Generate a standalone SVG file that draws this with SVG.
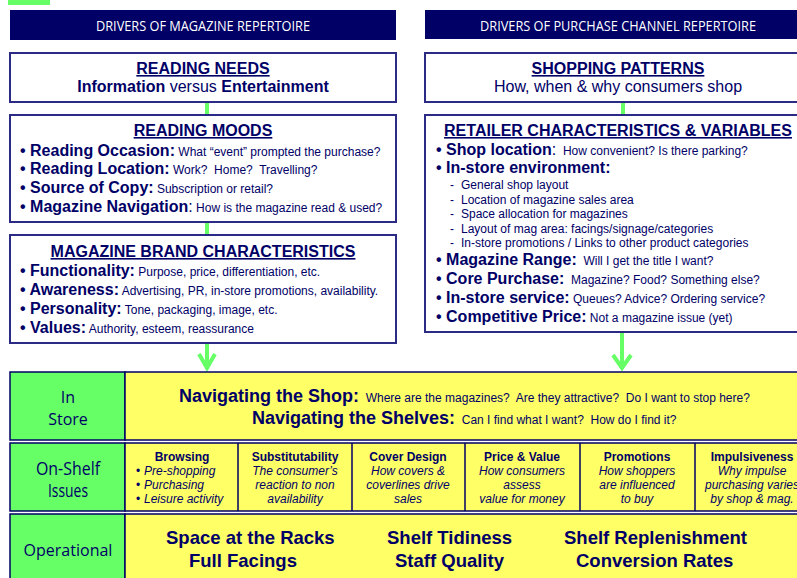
<svg xmlns="http://www.w3.org/2000/svg" width="797" height="578" viewBox="0 0 797 578">
  <style>
    text { font-family: "Liberation Sans", Arial, sans-serif; fill: #000066; }
    .hdr { fill: #000066; }
    .hdrt { font-family: "Open Sans", "DejaVu Sans", sans-serif; font-size: 14px; fill: #ffffff; text-anchor: middle; }
    .box { fill: #ffffff; stroke: #2b2b86; stroke-width: 2; }
    .ttl { font-size: 16px; font-weight: bold; text-anchor: middle; text-decoration: underline; }
    .b { font-size: 16px; font-weight: bold; }
    .r16 { font-size: 16px; font-weight: normal; }
    .s { font-size: 12px; font-weight: normal; }
    .mid { text-anchor: middle; }
    .cell-g { fill: #66ff66; stroke: #000066; stroke-width: 1.5; }
    .cell-y { fill: #ffff66; stroke: #000066; stroke-width: 1.5; }
    .lbl { font-family: "Open Sans", "DejaVu Sans", sans-serif; font-size: 16px; text-anchor: middle; }
    .ct { font-size: 12px; font-weight: bold; text-anchor: middle; }
    .ci { font-size: 12px; font-style: italic; text-anchor: middle; }
    .big { font-size: 18.5px; font-weight: bold; }
    .nav { font-size: 18px; font-weight: bold; }
    .conn { stroke: #66ff66; stroke-width: 4; fill: none; }
  </style>

  <!-- corner tab -->
  <rect x="8" y="0" width="42" height="5" fill="#66ff66"/>

  <!-- column headers -->
  <g id="header-magazine">
    <rect class="hdr" x="10" y="10" width="386" height="30"/>
    <text class="hdrt" x="203" y="31" textLength="214" lengthAdjust="spacingAndGlyphs">DRIVERS OF MAGAZINE REPERTOIRE</text>
  </g>
  <g id="header-channel">
    <rect class="hdr" x="425" y="10" width="385" height="29"/>
    <text class="hdrt" x="618" y="30.5" textLength="276" lengthAdjust="spacingAndGlyphs">DRIVERS OF PURCHASE CHANNEL REPERTOIRE</text>
  </g>

  <!-- connectors -->
  <g id="connectors">
    <line class="conn" x1="207" y1="102" x2="207" y2="115"/>
    <line class="conn" x1="207" y1="222" x2="207" y2="235"/>
    <line class="conn" x1="623" y1="102" x2="623" y2="115"/>
    <line class="conn" x1="207" y1="344" x2="207" y2="369"/>
    <polyline class="conn" points="199,354 207,368 215,354"/>
    <line class="conn" x1="622" y1="333" x2="622" y2="369"/>
    <polyline class="conn" points="613,355 622,368 631,355"/>
  </g>

  <!-- left column -->
  <g id="reading-needs">
    <rect class="box" x="10" y="53" width="386" height="49"/>
    <text class="ttl" x="203" y="74">READING NEEDS</text>
    <text class="mid" x="203" y="92"><tspan class="b">Information</tspan><tspan class="r16"> versus </tspan><tspan class="b">Entertainment</tspan></text>
  </g>

  <g id="reading-moods">
    <rect class="box" x="10" y="115" width="386" height="107"/>
    <text class="ttl" x="203" y="136">READING MOODS</text>
    <text x="20" y="156"><tspan class="b">• Reading Occasion:</tspan><tspan class="s"> What “event” prompted the purchase?</tspan></text>
    <text x="20" y="174" xml:space="preserve"><tspan class="b">• Reading Location:</tspan><tspan class="s"> Work?  Home?  Travelling?</tspan></text>
    <text x="20" y="193"><tspan class="b">• Source of Copy:</tspan><tspan class="s"> Subscription or retail?</tspan></text>
    <text x="20" y="212"><tspan class="b">• Magazine Navigation</tspan><tspan class="r16">:</tspan><tspan class="s"> How is the magazine read &amp; used?</tspan></text>
  </g>

  <g id="brand-characteristics">
    <rect class="box" x="10" y="235" width="386" height="108"/>
    <text class="ttl" x="203" y="257">MAGAZINE BRAND CHARACTERISTICS</text>
    <text x="20" y="276"><tspan class="b">• Functionality:</tspan><tspan class="s"> Purpose, price, differentiation, etc.</tspan></text>
    <text x="20" y="295"><tspan class="b">• Awareness:</tspan><tspan class="s"> Advertising, PR, in-store promotions, availability.</tspan></text>
    <text x="20" y="314"><tspan class="b">• Personality:</tspan><tspan class="s"> Tone, packaging, image, etc.</tspan></text>
    <text x="20" y="333"><tspan class="b">• Values:</tspan><tspan class="s"> Authority, esteem, reassurance</tspan></text>
  </g>

  <!-- right column -->
  <g id="shopping-patterns">
    <rect class="box" x="425" y="53" width="385" height="49"/>
    <text class="ttl" x="618" y="74">SHOPPING PATTERNS</text>
    <text class="r16 mid" x="618" y="92">How, when &amp; why consumers shop</text>
  </g>

  <g id="retailer-characteristics">
    <rect class="box" x="425" y="115" width="385" height="217"/>
    <text class="ttl" x="618" y="136">RETAILER CHARACTERISTICS &amp; VARIABLES</text>
    <text x="436" y="155" xml:space="preserve"><tspan class="b">• Shop location</tspan><tspan class="r16">:</tspan><tspan class="s">  How convenient? Is there parking?</tspan></text>
    <text class="b" x="436" y="173">• In-store environment:</text>
    <g class="s">
      <text class="s" x="450" y="189">-</text><text class="s" x="461" y="189">General shop layout</text>
      <text class="s" x="450" y="204">-</text><text class="s" x="461" y="204">Location of magazine sales area</text>
      <text class="s" x="450" y="218">-</text><text class="s" x="461" y="218">Space allocation for magazines</text>
      <text class="s" x="450" y="233">-</text><text class="s" x="461" y="233">Layout of mag area: facings/signage/categories</text>
      <text class="s" x="450" y="247">-</text><text class="s" x="461" y="247">In-store promotions / Links to other product categories</text>
    </g>
    <text x="436" y="265" xml:space="preserve"><tspan class="b">• Magazine Range:</tspan><tspan class="s">  Will I get the title I want?</tspan></text>
    <text x="436" y="284" xml:space="preserve"><tspan class="b">• Core Purchase:</tspan><tspan class="s">  Magazine? Food? Something else?</tspan></text>
    <text x="436" y="303"><tspan class="b">• In-store service:</tspan><tspan class="s"> Queues? Advice? Ordering service?</tspan></text>
    <text x="436" y="322"><tspan class="b">• Competitive Price:</tspan><tspan class="s"> Not a magazine issue (yet)</tspan></text>
  </g>

  <!-- bottom table: In Store -->
  <g id="row-in-store">
    <rect class="cell-g" x="10" y="372" width="115" height="68"/>
    <rect class="cell-y" x="125" y="372" width="685" height="68"/>
    <text class="lbl" x="68" y="403">In</text>
    <text class="lbl" x="68" y="425">Store</text>
    <text x="179" y="402" xml:space="preserve"><tspan class="nav">Navigating the Shop:</tspan><tspan class="s">  Where are the magazines?  Are they attractive?  Do I want to stop here?</tspan></text>
    <text x="252" y="424" xml:space="preserve"><tspan class="nav">Navigating the Shelves:</tspan><tspan class="s">  Can I find what I want?  How do I find it?</tspan></text>
  </g>

  <!-- bottom table: On-Shelf Issues -->
  <g id="row-on-shelf">
    <rect class="cell-g" x="10" y="443" width="115" height="68"/>
    <rect class="cell-y" x="125" y="443" width="685" height="68"/>
    <g stroke="#000066" stroke-width="1.5">
      <line x1="238" y1="443" x2="238" y2="511"/>
      <line x1="352" y1="443" x2="352" y2="511"/>
      <line x1="465" y1="443" x2="465" y2="511"/>
      <line x1="580" y1="443" x2="580" y2="511"/>
      <line x1="695" y1="443" x2="695" y2="511"/>
    </g>
    <text class="lbl" x="68" y="475" font-size="18" textLength="64" lengthAdjust="spacingAndGlyphs" style="font-size:18px">On-Shelf</text>
    <text class="lbl" x="68" y="497" style="font-size:18px" textLength="40" lengthAdjust="spacingAndGlyphs">Issues</text>

    <g id="cell-browsing">
      <text class="ct" x="182" y="461">Browsing</text>
      <text class="s" x="136" y="475">•</text><text class="ci" x="144" y="475" text-anchor="start" style="text-anchor:start">Pre-shopping</text>
      <text class="s" x="136" y="489">•</text><text class="ci" x="144" y="489" style="text-anchor:start">Purchasing</text>
      <text class="s" x="136" y="503">•</text><text class="ci" x="144" y="503" style="text-anchor:start">Leisure activity</text>
    </g>
    <g id="cell-substitutability">
      <text class="ct" x="295" y="461">Substitutability</text>
      <text class="ci" x="295" y="475">The consumer’s</text>
      <text class="ci" x="295" y="489">reaction to non</text>
      <text class="ci" x="295" y="503">availability</text>
    </g>
    <g id="cell-cover-design">
      <text class="ct" x="408" y="461">Cover Design</text>
      <text class="ci" x="408" y="475">How covers &amp;</text>
      <text class="ci" x="408" y="489">coverlines drive</text>
      <text class="ci" x="408" y="503">sales</text>
    </g>
    <g id="cell-price-value">
      <text class="ct" x="522" y="461">Price &amp; Value</text>
      <text class="ci" x="522" y="475">How consumers</text>
      <text class="ci" x="522" y="489">assess</text>
      <text class="ci" x="522" y="503">value for money</text>
    </g>
    <g id="cell-promotions">
      <text class="ct" x="637" y="461">Promotions</text>
      <text class="ci" x="637" y="475">How shoppers</text>
      <text class="ci" x="637" y="489">are influenced</text>
      <text class="ci" x="637" y="503">to buy</text>
    </g>
    <g id="cell-impulsiveness">
      <text class="ct" x="752" y="461">Impulsiveness</text>
      <text class="ci" x="752" y="475">Why impulse</text>
      <text class="ci" x="752" y="489">purchasing varies</text>
      <text class="ci" x="752" y="503">by shop &amp; mag.</text>
    </g>
  </g>

  <!-- bottom table: Operational -->
  <g id="row-operational">
    <rect class="cell-g" x="10" y="514" width="115" height="66"/>
    <rect class="cell-y" x="125" y="514" width="685" height="66"/>
    <text class="lbl" x="68" y="556">Operational</text>
    <text class="big" x="166" y="544">Space at the Racks</text>
    <text class="big" x="189" y="567">Full Facings</text>
    <text class="big" x="387" y="544">Shelf Tidiness</text>
    <text class="big" x="395" y="567">Staff Quality</text>
    <text class="big" x="564" y="544">Shelf Replenishment</text>
    <text class="big" x="576" y="567">Conversion Rates</text>
  </g>
</svg>
